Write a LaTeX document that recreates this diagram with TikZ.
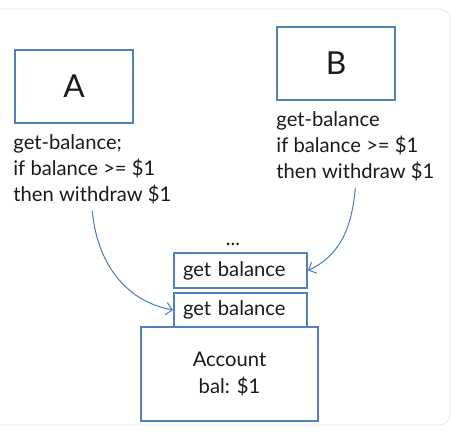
\documentclass[tikz,border=0pt]{standalone}
\usepackage{fontspec}
\setmainfont{Lato}
\usepackage{tikz}
\usetikzlibrary{arrows.meta,positioning}
\definecolor{boxblue}{HTML}{4F81BD}
\definecolor{cardgray}{HTML}{E4E4E4}
\definecolor{inktext}{HTML}{1A1A1A}

\begin{document}
\begin{tikzpicture}[x=0.02cm,y=-0.02cm,
    procbox/.style={draw=boxblue,line width=1.1pt,minimum width=2.36cm,minimum height=1.46cm,font=\fontsize{18}{20}\selectfont,text=inktext},
    codetext/.style={align=left,inner sep=0pt,font=\fontsize{11.5}{14.8}\selectfont,text=inktext},
    stackbox/.style={draw=boxblue,line width=1.1pt,text width=2.3cm,inner xsep=0.18cm,minimum height=0.69cm,align=left,font=\fontsize{11.5}{13}\selectfont,text=inktext},
    callarrow/.style={-{Straight Barb[length=3.5pt,width=7pt]},boxblue,line width=0.6pt}]
  \useasboundingbox (0,0) rectangle (456,438);
  % Card outline
  \draw[cardgray,rounded corners=6pt] (-10,9) rectangle (450,425);
  % Processes
  \node[procbox] (boxA) at (74,86.5) {A};
  \node[procbox] (boxB) at (336,63.5) {B};
  \node[codetext,below=0.2cm of boxA.south west,anchor=north west,xshift=-0.02cm] (codeA) {get-balance;\\if balance >= \$1\\then withdraw \$1};
  \node[codetext,below=0.2cm of boxB.south west,anchor=north west] (codeB) {get-balance\\if balance >= \$1\\then withdraw \$1};
  % Request stack
  \node[stackbox] (getB) at (240.5,270.5) {get balance};
  \node[stackbox,below=0.06cm of getB] (getA) {get balance};
  \node[codetext,above=0.12cm of getB,xshift=-0.15cm] (more) {...};
  \node[draw=boxblue,line width=1.1pt,minimum width=3.54cm,minimum height=1.88cm,align=center,
        font=\fontsize{11.5}{15.3}\selectfont,text=inktext] (acct) at (229.5,374) {Account\\bal: \$1};
  % Calls
  \draw[callarrow] ([yshift=-0.14cm]codeA.south) to[out=-85,in=170] (getA.west);
  \draw[callarrow] ([yshift=-0.14cm]codeB.south) to[out=-95,in=25] (getB.east);
\end{tikzpicture}
\end{document}
